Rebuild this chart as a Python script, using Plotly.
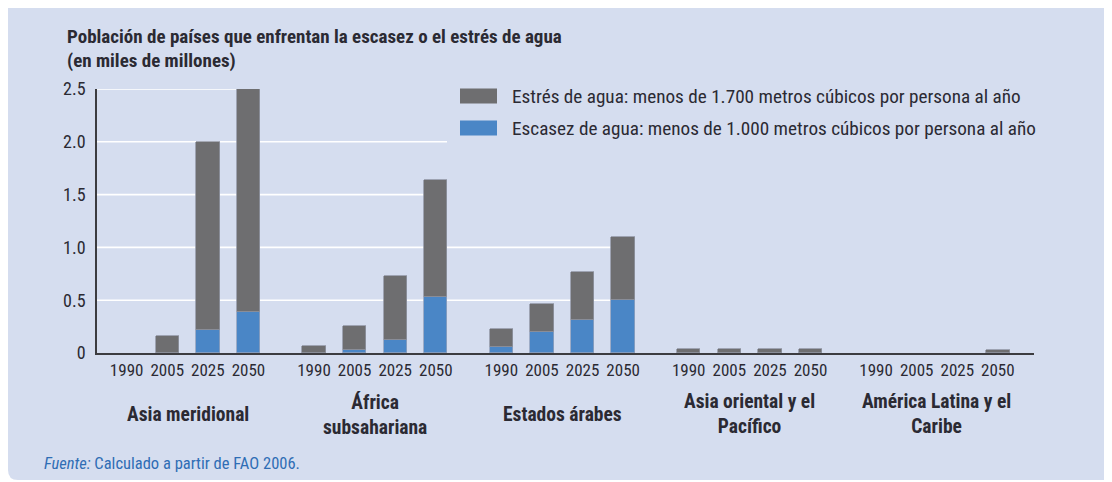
import plotly.graph_objects as go

# ---------------- data ----------------
regions = ["Asia meridional", "África<br>subsahariana", "Estados árabes",
           "Asia oriental y el<br>Pacífico", "América Latina y el<br>Caribe"]
years = ["1990", "2005", "2025", "2050"]
# population (miles de millones), ordered region by region, year by year
stress_total = [0.00, 0.16, 2.00, 2.50,     # Asia meridional
                0.07, 0.26, 0.73, 1.64,     # África subsahariana
                0.23, 0.46, 0.77, 1.10,     # Estados árabes
                0.04, 0.04, 0.04, 0.04,     # Asia oriental y el Pacífico
                0.00, 0.00, 0.00, 0.03]     # América Latina y el Caribe
scarcity = [0.00, 0.00, 0.22, 0.39,
            0.00, 0.03, 0.12, 0.53,
            0.06, 0.20, 0.31, 0.50,
            0.00, 0.00, 0.00, 0.00,
            0.00, 0.00, 0.00, 0.00]
y_ticks = [0, 0.5, 1.0, 1.5, 2.0, 2.5]
y_ticktext = ["0", "0.5", "1.0", "1.5", "2.0", "2.5"]
name_stress = "Estrés de agua: menos de 1.700 metros cúbicos por persona al año"
name_scarcity = "Escasez de agua: menos de 1.000 metros cúbicos por persona al año"

# ---------------- layout constants ----------------
# The page body has an 8px margin: window coords = figure coords + 8.
OFF = 8
GROUP_STEP = 4.615
BAR_W = 0.575
X_RANGE = [-0.73, 22.35]
FONT = "Liberation Sans Narrow, Roboto Condensed, DejaVu Sans Condensed, Arial Narrow, Liberation Sans, sans-serif"
TXT = "#2b2a33"
GREY = "#6e6e70"
BLUE = "#4a86c6"
PANEL = "#d5ddef"
W, H = 1112, 482

x_pos = [g * GROUP_STEP + i for g in range(len(regions)) for i in range(len(years))]
stress_only = [t - s for t, s in zip(stress_total, scarcity)]
blue_vals = [v if v > 0 else None for v in scarcity]
grey_vals = [v if v > 0 else None for v in stress_only]
hover_region = [regions[g].replace("<br>", " ") for g in range(len(regions)) for _ in years]
hover_year = [y for _ in regions for y in years]

fig = go.Figure()
fig.add_trace(go.Bar(
    x=x_pos, y=blue_vals, width=BAR_W, name=name_scarcity,
    marker=dict(color=BLUE, line=dict(color="#8fa0bd", width=0.8)),
    customdata=list(zip(hover_region, hover_year)),
    hovertemplate="%{customdata[0]} %{customdata[1]}<br>Escasez: %{y:.2f}<extra></extra>",
    showlegend=False))
fig.add_trace(go.Bar(
    x=x_pos, y=grey_vals, width=BAR_W, name=name_stress,
    marker=dict(color=GREY, line=dict(color="#9095a3", width=0.8)),
    customdata=list(zip(hover_region, hover_year, stress_total)),
    hovertemplate="%{customdata[0]} %{customdata[1]}<br>Estrés: %{customdata[2]:.2f}<extra></extra>",
    showlegend=False))

# plot area in window pixels: x 97..1034, y 89..353
PX_L, PX_R, PX_T, PX_B = 97, 1034, 89, 353
pw, ph = float(PX_R - PX_L), float(PX_B - PX_T)
def px_x(p):
    return (p - PX_L) / pw
def px_y(p):
    return (PX_B - p) / ph
def px_to_data_x(p):
    return X_RANGE[0] + (p - PX_L) / pw * (X_RANGE[1] - X_RANGE[0])

shapes = []
x0, x1, y0, y1 = px_x(OFF), px_x(W + OFF + 4), px_y(480), px_y(OFF - 2)
rx, ry = 10 / pw, 10 / ph
path = (f"M {x0},{y1} L {x1},{y1} L {x1},{y0} L {x0+rx},{y0} "
        f"Q {x0},{y0} {x0},{y0+ry} Z")
shapes.append(dict(type="path", path=path, xref="paper", yref="paper",
                   fillcolor=PANEL, line=dict(width=0), layer="below"))

# white gridlines ending at the rightmost bar that reaches them
GRID_END_OVERRIDE = {2.0: px_to_data_x(447)}
for v in y_ticks[1:]:
    idx = [k for k, t in enumerate(stress_total) if t >= v - 1e-9]
    end = x_pos[max(idx)] - BAR_W / 2 if idx else X_RANGE[1]
    end = GRID_END_OVERRIDE.get(v, end)
    shapes.append(dict(type="line", xref="x", yref="y", x0=X_RANGE[0], x1=end,
                       y0=v, y1=v, line=dict(color="white", width=1.6), layer="below"))

# legend (swatch + text)
legend_rows = [(name_stress, GREY, 96), (name_scarcity, BLUE, 128)]
annotations = []
for label, col, yc in legend_rows:
    shapes.append(dict(type="rect", xref="paper", yref="paper",
                       x0=px_x(460), x1=px_x(497), y0=px_y(yc + 7.5), y1=px_y(yc - 7.5),
                       fillcolor=col, line=dict(width=0)))
    annotations.append(dict(text=label, xref="paper", yref="paper", x=px_x(510), y=px_y(yc),
                            xanchor="left", yanchor="middle", showarrow=False,
                            font=dict(family=FONT, size=19.2, color=TXT)))

# region labels
for g, r in enumerate(regions):
    annotations.append(dict(text=f"<b>{r}</b>", xref="x", yref="paper",
                            x=g * GROUP_STEP + 1.5, y=px_y(414), xanchor="center",
                            yanchor="middle", showarrow=False, align="center",
                            font=dict(family=FONT, size=19.5, color=TXT)))

# source
annotations.append(dict(text="<i>Fuente:</i> Calculado a partir de FAO 2006.",
                        xref="paper", yref="paper", x=px_x(42), y=px_y(463),
                        xanchor="left", yanchor="middle", showarrow=False,
                        font=dict(family=FONT, size=16.5, color="#2f6db5")))

fig.update_layout(
    width=W, height=H,
    margin=dict(l=PX_L - OFF, r=W - (PX_R - OFF), t=PX_T - OFF, b=H - (PX_B - OFF), pad=0),
    paper_bgcolor="white", plot_bgcolor="rgba(0,0,0,0)",
    barmode="stack", bargap=0,
    title=dict(text="<b>Población de países que enfrentan la escasez o el estrés de agua<br>(en miles de millones)</b>",
               x=(67 - OFF) / W, xanchor="left", xref="container",
               y=1 - (42.5 - OFF) / H, yanchor="middle", yref="container",
               font=dict(family=FONT, size=19, color=TXT)),
    font=dict(family=FONT, size=16, color=TXT),
    showlegend=False,
    shapes=shapes, annotations=annotations,
    xaxis=dict(range=X_RANGE, tickvals=x_pos, ticktext=[y for _ in regions for y in years],
               showgrid=False, zeroline=False, showline=True, linecolor="#3c3c40", linewidth=1.6,
               ticks="", ticklabelstandoff=1, tickfont=dict(family=FONT, size=17, color=TXT),
               fixedrange=True),
    yaxis=dict(range=[0, 2.5], tickvals=y_ticks, ticktext=y_ticktext,
               showgrid=False, zeroline=False, showline=True, linecolor="#3c3c40", linewidth=1.6,
               ticks="", ticklabelstandoff=6, tickfont=dict(family=FONT, size=18, color=TXT),
               fixedrange=True),
)

fig.write_html("out.html")
